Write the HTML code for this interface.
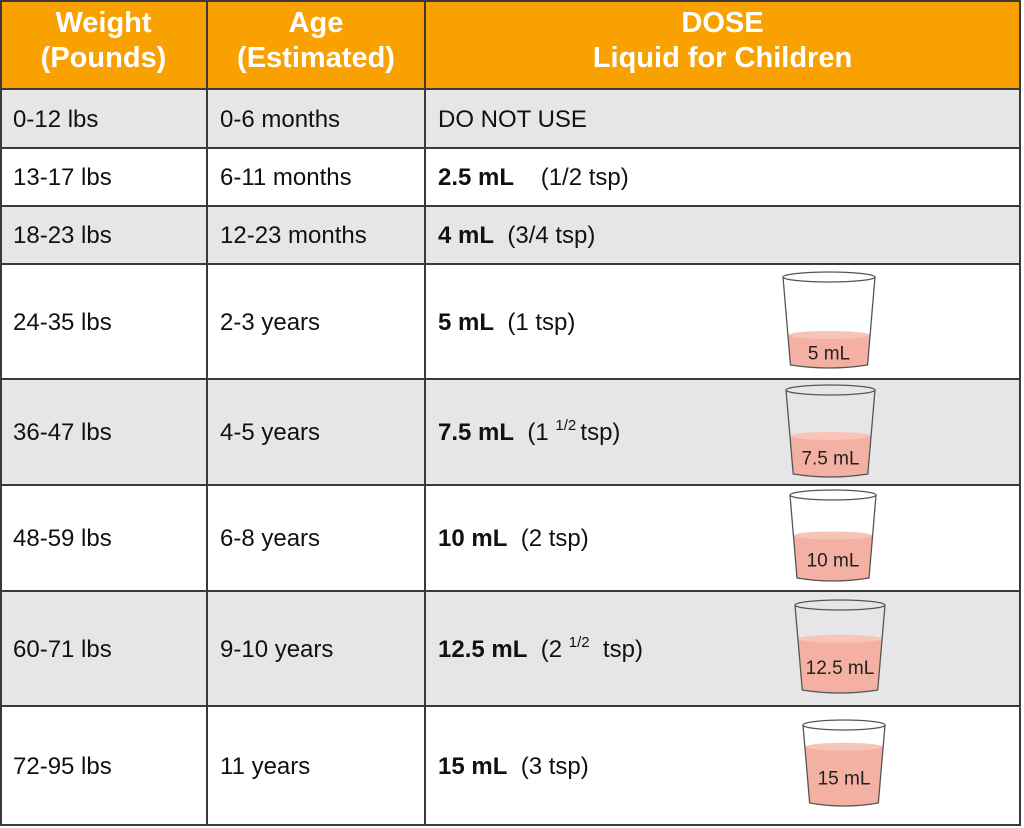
<!DOCTYPE html>
<html><head><meta charset="utf-8"><style>
body{margin:0;width:1024px;height:828px;background:#fff;font-family:"Liberation Sans",Arial,sans-serif;position:relative;overflow:hidden}
.c{position:absolute;box-sizing:border-box;display:flex;align-items:center;font-size:24px;color:#111}
.h{background:#f9a100;color:#fff;font-weight:bold;font-size:29px;justify-content:center;text-align:center;line-height:35px;padding-bottom:8px}
.g{background:#e6e6e8}
.hl{position:absolute;background:#3a3a3a;height:2px}
.vl{position:absolute;background:#3a3a3a;width:2px}
sup{font-size:15px;vertical-align:10px;line-height:0}
</style></head><body>
<div id="t"></div>
<script>
const weights=["0-12 lbs","13-17 lbs","18-23 lbs","24-35 lbs","36-47 lbs","48-59 lbs","60-71 lbs","72-95 lbs"];
const ages=["0-6 months","6-11 months","12-23 months","2-3 years","4-5 years","6-8 years","9-10 years","11 years"];
const doseBold=["","2.5 mL","4 mL","5 mL","7.5 mL","10 mL","12.5 mL","15 mL"];
const doseTsp=["DO NOT USE","&nbsp;&nbsp;(1/2 tsp)","(3/4 tsp)","(1 tsp)","(1 <sup>1/2 </sup>tsp)","(2 tsp)","(2 <sup>1/2</sup>&nbsp; tsp)","(3 tsp)"];
const cupLabels=["","","","5 mL","7.5 mL","10 mL","12.5 mL","15 mL"];
const cupFill=[0,0,0,0.35,0.45,0.5,0.58,0.68];
const rowY=[0,89,148,206,264,379,485,591,706,825];
const colX=[0,207,425,1020];
const cupBox=[null,null,null,[780,270,98,100],[783,383,95,96],[787,488,92,95],[792,598,96,97],[800,718,88,90]];
const t=document.getElementById('t');
function cell(x,y,w,h,cls,html,name){const d=document.createElement('div');d.className='c '+cls;d.style.cssText=`left:${x}px;top:${y}px;width:${w}px;height:${h}px;padding-left:${cls.includes('h')?0:13}px;padding-top:${cls.includes('h')?0:2}px`;d.innerHTML='<span>'+html+'</span>';


t.appendChild(d);return d;}
const heads=["Weight<br>(Pounds)","Age<br>(Estimated)","DOSE<br>Liquid for Children"];
const hn=["weight-header","age-header","dose-header"];
for(let c=0;c<3;c++)cell(colX[c],0,colX[c+1]-colX[c],89,'h',heads[c],hn[c]);
for(let r=0;r<8;r++){const y=rowY[r+1],h=rowY[r+2]-y,g=r%2==0?'g':'';
cell(0,y,207,h,g,weights[r],'weight-cell');
cell(207,y,218,h,g,ages[r],'age-cell');
cell(425,y,595,h,g,(doseBold[r]?'<b>'+doseBold[r]+'</b>&nbsp;&nbsp;':'')+doseTsp[r],'dose-cell');
const b=cupBox[r];if(b){const [x,yy,w,hh]=b;const f=cupFill[r];const ft=hh*(1-f);
const s=document.createElementNS('http://www.w3.org/2000/svg','svg');


s.setAttribute('width',w);s.setAttribute('height',hh);s.style.cssText=`position:absolute;left:${x}px;top:${yy}px`;
const lx=(yv)=>3+(yv/hh)*(w*0.08),rx=(yv)=>w-3-(yv/hh)*(w*0.08);
s.innerHTML=`<path d="M${lx(ft)},${ft} L${lx(hh-5)},${hh-5} Q${w/2},${hh+1} ${rx(hh-5)},${hh-5} L${rx(ft)},${ft} Q${w/2},${ft+5} ${lx(ft)},${ft}Z" fill="#f4b0a2"/>
<ellipse cx="${w/2}" cy="${ft}" rx="${(rx(ft)-lx(ft))/2}" ry="4" fill="#f7c4b8"/>
<path d="M3,7 L${lx(hh-5)},${hh-5} Q${w/2},${hh+1} ${rx(hh-5)},${hh-5} L${w-3},7" fill="none" stroke="#555" stroke-width="1.3"/>
<ellipse cx="${w/2}" cy="7" rx="${w/2-3}" ry="5" fill="none" stroke="#555" stroke-width="1.3"/>
<text x="${w/2}" y="${ft+(hh-ft)/2+7}" text-anchor="middle" font-family="Liberation Sans,sans-serif" font-size="19" fill="#222">${cupLabels[r]}</text>`;
t.appendChild(s);}}
function line(cls,x,y,len){const d=document.createElement('div');d.className=cls;if(cls=='hl'){d.style.cssText=`left:${x}px;top:${y-1}px;width:${len}px`;}else{d.style.cssText=`left:${x-1}px;top:${y}px;height:${len}px`;}


t.appendChild(d);}
for(let i=0;i<rowY.length;i++)line('hl',0,Math.max(1,rowY[i]),1021);
for(let i=0;i<colX.length;i++)line('vl',Math.max(1,colX[i]),0,826);
</script>
</body></html>
